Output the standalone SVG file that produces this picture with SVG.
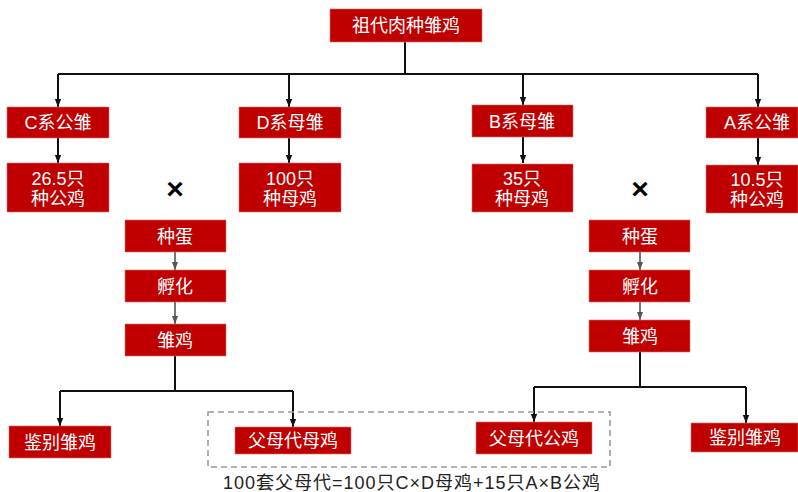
<svg xmlns="http://www.w3.org/2000/svg" width="798" height="492" viewBox="0 0 798 492">
<style>
.box{fill:#C00000;stroke:#E07070;stroke-width:0.6}
.t{fill:#fff;font-family:"Liberation Sans","Noto Sans CJK SC",sans-serif;font-size:18px;text-anchor:middle}
.ln{fill:none;stroke:#111;stroke-width:2}
.lg{fill:none;stroke:#555;stroke-width:1.6}
.x{font-family:"Liberation Sans","Noto Sans CJK SC",sans-serif;font-weight:bold;font-size:30px;text-anchor:middle;fill:#000}
</style>
<defs>
<marker id="ah" markerUnits="userSpaceOnUse" markerWidth="8" markerHeight="8" viewBox="0 0 8 8" refX="8" refY="4" orient="auto"><path d="M0,0.8 L8,4 L0,7.2 z" fill="#111"/></marker>
<marker id="ahg" markerUnits="userSpaceOnUse" markerWidth="8" markerHeight="8" viewBox="0 0 8 8" refX="8" refY="4" orient="auto"><path d="M0,1 L8,4 L0,7 z" fill="#555"/></marker>
</defs>
<rect width="798" height="492" fill="#fff"/>
<g id="connectors">
<path class="ln" d="M405,42 V74 M58,74 H758"/>
<path class="ln" d="M58,74 V107" marker-end="url(#ah)"/>
<path class="ln" d="M289,74 V107" marker-end="url(#ah)"/>
<path class="ln" d="M523,74 V105" marker-end="url(#ah)"/>
<path class="ln" d="M758,74 V107" marker-end="url(#ah)"/>
<path class="ln" d="M58,138 V163" marker-end="url(#ah)"/>
<path class="ln" d="M289,138 V163" marker-end="url(#ah)"/>
<path class="ln" d="M523,137 V163" marker-end="url(#ah)"/>
<path class="ln" d="M758,138 V165" marker-end="url(#ah)"/>
<path class="lg" d="M175,252 V270" marker-end="url(#ahg)"/>
<path class="lg" d="M175,302 V324" marker-end="url(#ahg)"/>
<path class="lg" d="M640,252 V270" marker-end="url(#ahg)"/>
<path class="lg" d="M640,302 V320" marker-end="url(#ahg)"/>
<path class="ln" d="M175,356 V391 M60,391 H293"/>
<path class="ln" d="M60,391 V426" marker-end="url(#ah)"/>
<path class="ln" d="M293,391 V427" marker-end="url(#ah)"/>
<path class="ln" d="M640,352 V387 M534,387 H746"/>
<path class="ln" d="M534,387 V422" marker-end="url(#ah)"/>
<path class="ln" d="M746,387 V423" marker-end="url(#ah)"/>
</g>
<rect id="group-box" x="208" y="412" width="402" height="55" fill="none" stroke="#999" stroke-width="1.6" stroke-dasharray="6,4"/>
<g id="root"><rect class="box" x="330" y="9" width="152" height="33"/><text class="t" x="406" y="32">祖代肉种雏鸡</text></g>
<g id="c-chick"><rect class="box" x="7" y="107" width="102" height="31"/><text class="t" x="58" y="129">C系公雏</text></g>
<g id="d-chick"><rect class="box" x="239" y="107" width="102" height="31"/><text class="t" x="290" y="129">D系母雏</text></g>
<g id="b-chick"><rect class="box" x="472" y="105" width="101" height="32"/><text class="t" x="522" y="128">B系母雏</text></g>
<g id="a-chick"><rect class="box" x="706" y="107" width="92" height="31"/><text class="t" x="757" y="129">A系公雏</text></g>
<g id="c-breed"><rect class="box" x="7" y="163" width="102" height="49"/><text class="t" x="58" y="185">26.5只</text><text class="t" x="58" y="205">种公鸡</text></g>
<g id="d-breed"><rect class="box" x="239" y="163" width="102" height="49"/><text class="t" x="290" y="185">100只</text><text class="t" x="290" y="205">种母鸡</text></g>
<g id="b-breed"><rect class="box" x="472" y="164" width="101" height="48"/><text class="t" x="522" y="185">35只</text><text class="t" x="522" y="205">种母鸡</text></g>
<g id="a-breed"><rect class="box" x="706" y="165" width="92" height="48"/><text class="t" x="757" y="186">10.5只</text><text class="t" x="757" y="206">种公鸡</text></g>
<text class="x" x="175" y="199">×</text>
<text class="x" x="640" y="199">×</text>
<g id="egg-l"><rect class="box" x="125" y="220" width="101" height="32"/><text class="t" x="175" y="243">种蛋</text></g>
<g id="hatch-l"><rect class="box" x="125" y="270" width="101" height="32"/><text class="t" x="175" y="293">孵化</text></g>
<g id="chick-l"><rect class="box" x="125" y="324" width="101" height="32"/><text class="t" x="175" y="347">雏鸡</text></g>
<g id="egg-r"><rect class="box" x="589" y="220" width="101" height="32"/><text class="t" x="640" y="243">种蛋</text></g>
<g id="hatch-r"><rect class="box" x="589" y="270" width="101" height="32"/><text class="t" x="640" y="293">孵化</text></g>
<g id="chick-r"><rect class="box" x="589" y="320" width="101" height="32"/><text class="t" x="640" y="343">雏鸡</text></g>
<g id="sort-l"><rect class="box" x="9" y="426" width="102" height="32"/><text class="t" x="60" y="449">鉴别雏鸡</text></g>
<g id="parent-hen"><rect class="box" x="235" y="427" width="116" height="27"/><text class="t" x="293" y="447">父母代母鸡</text></g>
<g id="parent-cock"><rect class="box" x="476" y="422" width="116" height="32"/><text class="t" x="534" y="445">父母代公鸡</text></g>
<g id="sort-r"><rect class="box" x="691" y="423" width="107" height="29"/><text class="t" x="745" y="444">鉴别雏鸡</text></g>
<text x="223" y="489" font-family="'Liberation Sans','Noto Sans CJK SC',sans-serif" font-size="18" fill="#222" textLength="377" lengthAdjust="spacing">100套父母代=100只C×D母鸡+15只A×B公鸡</text>
</svg>
